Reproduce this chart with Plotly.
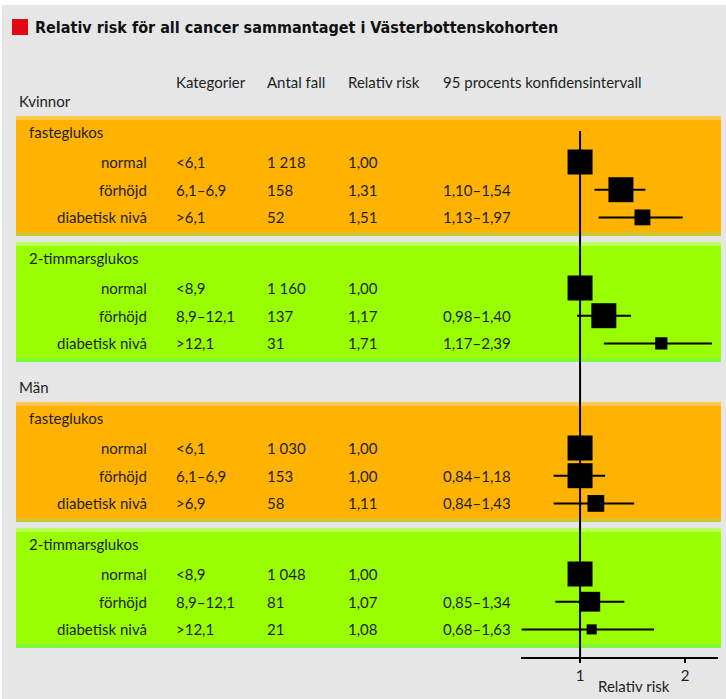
import math
import plotly.graph_objects as go

# ---------------- data ----------------
title = "Relativ risk för all cancer sammantaget i Västerbottenskohorten"
column_headers = ["Kategorier", "Antal fall", "Relativ risk", "95 procents konfidensintervall"]
sexes = ["Kvinnor", "Män"]
measures = ["fasteglukos", "2-timmarsglukos", "fasteglukos", "2-timmarsglukos"]
row_labels = ["normal", "förhöjd", "diabetisk nivå"]
categories = [
    ["<6,1", "6,1–6,9", ">6,1"],
    ["<8,9", "8,9–12,1", ">12,1"],
    ["<6,1", "6,1–6,9", ">6,9"],
    ["<8,9", "8,9–12,1", ">12,1"],
]
cases = [
    [1218, 158, 52],
    [1160, 137, 31],
    [1030, 153, 58],
    [1048, 81, 21],
]
relative_risk = [
    [1.00, 1.31, 1.51],
    [1.00, 1.17, 1.71],
    [1.00, 1.00, 1.11],
    [1.00, 1.07, 1.08],
]
ci_low = [
    [None, 1.10, 1.13],
    [None, 0.98, 1.17],
    [None, 0.84, 0.84],
    [None, 0.85, 0.68],
]
ci_high = [
    [None, 1.54, 1.97],
    [None, 1.40, 2.39],
    [None, 1.18, 1.43],
    [None, 1.34, 1.63],
]
x_ticks = [1, 2]
x_title = "Relativ risk"

# ---------------- layout helpers ----------------
W, H = 726, 699
AXIS_Y = 657
def px(x):
    return x / W
def py(y):
    return 1 - y / H

BG = "#E6E6E6"
ORANGE = dict(main="#FFB300", top="#FFC84C", bottom="#D2C530")
GREEN = dict(main="#99FF00", top="#BBFF5A", bottom="#7FF83C")
panel_colors = [ORANGE, GREEN, ORANGE, GREEN]
TEXT = "#1E1E1E"
FONT = "Lato"
FS = 15
TITLE_FONT = "DejaVu Sans Condensed, Liberation Sans Narrow, Roboto Condensed, Lato"

panel_h, gap_in, gap_group = 120, 6, 40
panel_tops = []
t = 116
for i in range(4):
    panel_tops.append(t)
    t += panel_h + (gap_in if i % 2 == 0 else gap_group)

def row_y(p, r):
    return panel_tops[p] + 46 + 27.7 * r

shapes = []
annotations = []

# gray background
shapes.append(dict(type="rect", xref="paper", yref="paper", x0=px(2), x1=px(726),
                   y0=py(699), y1=py(5), fillcolor=BG, line=dict(width=0), layer="below"))
# red square + title
shapes.append(dict(type="rect", xref="paper", yref="paper", x0=px(12), x1=px(28),
                   y0=py(35), y1=py(19), fillcolor="#E30613", line=dict(width=0), layer="below"))
annotations.append(dict(text="<b>" + title + "</b>", xref="paper", yref="paper", x=px(33), y=py(27),
                        xanchor="left", yanchor="middle", showarrow=False,
                        font=dict(family=TITLE_FONT, size=16, color="#111111")))

# column headers
col_x = [174, 265, 346, 441]
for cx, txt in zip(col_x, column_headers):
    annotations.append(dict(text=txt, xref="paper", yref="paper", x=px(cx), y=py(82),
                            xanchor="left", yanchor="middle", showarrow=False,
                            font=dict(family=FONT, size=FS, color=TEXT)))

# panels
for p in range(4):
    top = panel_tops[p]
    c = panel_colors[p]
    shapes.append(dict(type="rect", xref="paper", yref="paper", x0=px(16), x1=px(721),
                       y0=py(top + panel_h), y1=py(top), fillcolor=c["main"], line=dict(width=0), layer="below"))
    shapes.append(dict(type="rect", xref="paper", yref="paper", x0=px(16), x1=px(721),
                       y0=py(top + 4), y1=py(top), fillcolor=c["top"], line=dict(width=0), layer="below"))
    shapes.append(dict(type="rect", xref="paper", yref="paper", x0=px(16), x1=px(721),
                       y0=py(top + panel_h), y1=py(top + panel_h - 4), fillcolor=c["bottom"], line=dict(width=0), layer="below"))
    if p % 2 == 0:
        annotations.append(dict(text=sexes[p // 2], xref="paper", yref="paper", x=px(17), y=py(top - 15),
                                xanchor="left", yanchor="middle", showarrow=False,
                                font=dict(family=FONT, size=FS, color=TEXT)))
    annotations.append(dict(text=measures[p], xref="paper", yref="paper", x=px(27), y=py(top + 16),
                            xanchor="left", yanchor="middle", showarrow=False,
                            font=dict(family=FONT, size=FS, color=TEXT)))
    for r in range(3):
        y = row_y(p, r)
        cells = [
            (149, "right", row_labels[r]),
            (174, "left", categories[p][r]),
            (265, "left", f"{cases[p][r]:,}".replace(",", " ")),
            (346, "left", f"{relative_risk[p][r]:.2f}".replace(".", ",")),
        ]
        if ci_low[p][r] is not None:
            cells.append((441, "left", (f"{ci_low[p][r]:.2f}–{ci_high[p][r]:.2f}").replace(".", ",")))
        for cx, anc, txt in cells:
            annotations.append(dict(text=txt, xref="paper", yref="paper", x=px(cx), y=py(y),
                                    xanchor=anc, yanchor="middle", showarrow=False,
                                    font=dict(family=FONT, size=FS, color=TEXT)))

annotations.append(dict(text=x_title, xref="paper", yref="paper", x=px(634), y=py(686),
                        xanchor="center", yanchor="middle", showarrow=False,
                        font=dict(family=FONT, size=FS, color=TEXT)))

fig = go.Figure()

# reference line at RR = 1
fig.add_trace(go.Scatter(x=[1, 1], y=[131, AXIS_Y], mode="lines",
                         line=dict(color="black", width=2), hoverinfo="skip", showlegend=False))

# confidence intervals
cx_list, cy_list = [], []
for p in range(4):
    for r in range(3):
        if ci_low[p][r] is not None:
            y = row_y(p, r)
            cx_list += [ci_low[p][r], ci_high[p][r], None]
            cy_list += [y, y, None]
fig.add_trace(go.Scatter(x=cx_list, y=cy_list, mode="lines", line=dict(color="black", width=2),
                         hoverinfo="skip", showlegend=False, cliponaxis=False))

# point estimates (box size grows with number of cases)
mx, my, ms = [], [], []
for p in range(4):
    for r in range(3):
        mx.append(relative_risk[p][r])
        my.append(row_y(p, r))
        ms.append(min(25, 2.2 * math.sqrt(cases[p][r])))
fig.add_trace(go.Scatter(x=mx, y=my, mode="markers", cliponaxis=False, opacity=1,
                         marker=dict(symbol="square", color="black", size=ms, opacity=1,
                                     line=dict(width=0)),
                         showlegend=False))

fig.update_layout(
    width=W, height=H, autosize=False,
    margin=dict(l=0, r=0, t=0, b=0),
    paper_bgcolor="white", plot_bgcolor="rgba(0,0,0,0)",
    shapes=shapes, annotations=annotations,
    xaxis=dict(type="log", domain=[px(521), px(718)],
               range=[math.log10(0.677), math.log10(2.487)],
               showgrid=False, zeroline=False, showline=True, linecolor="black", linewidth=2,
               ticks="outside", ticklen=4, tickwidth=2, tickcolor="black",
               tickvals=x_ticks, ticktext=[str(v) for v in x_ticks],
               tickfont=dict(family=FONT, size=FS, color=TEXT)),
    yaxis=dict(domain=[1 - AXIS_Y / H, 1], range=[AXIS_Y, 0], visible=False),
)

fig.write_html("out.html")
